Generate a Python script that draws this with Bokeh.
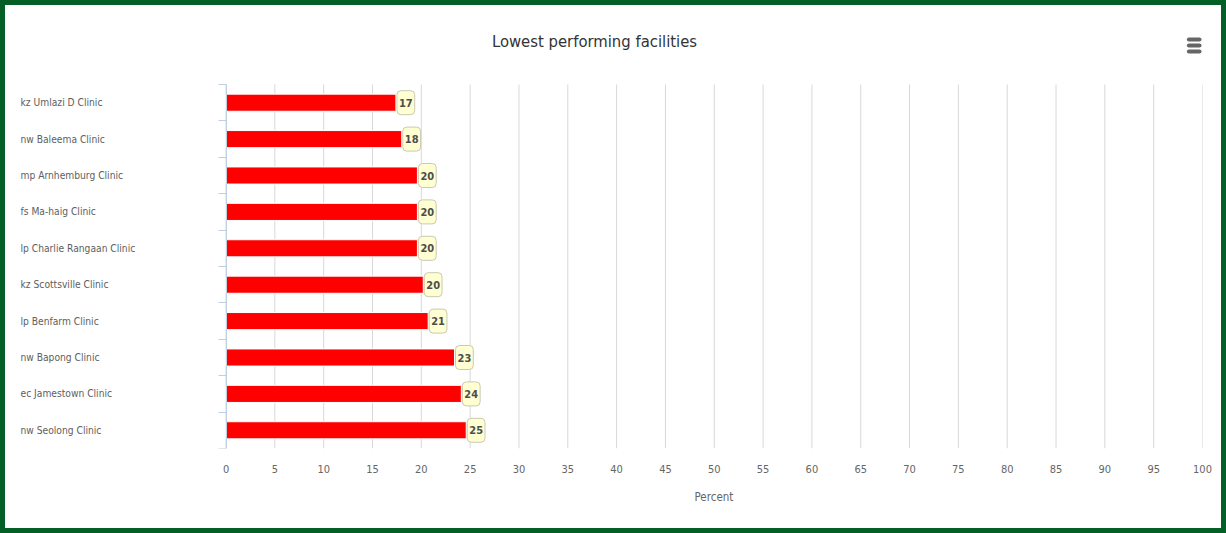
from bokeh.plotting import figure
from bokeh.models import (Range1d, FixedTicker, Label, LabelSet, ColumnDataSource,
                          Title, BoxAnnotation)
from bokeh.embed import file_html
from bokeh.resources import INLINE
from bokeh.core.properties import value

# ---- data ----
facilities = [
    "kz Umlazi D Clinic",
    "nw Baleema Clinic",
    "mp Arnhemburg Clinic",
    "fs Ma-haig Clinic",
    "lp Charlie Rangaan Clinic",
    "kz Scottsville Clinic",
    "lp Benfarm Clinic",
    "nw Bapong Clinic",
    "ec Jamestown Clinic",
    "nw Seolong Clinic",
]
percent = [17.4, 18.0, 19.6, 19.6, 19.6, 20.2, 20.7, 23.4, 24.1, 24.6]
x_ticks = list(range(0, 101, 5))
title_text = "Lowest performing facilities"
x_title = "Percent"

FONT = "'DejaVu Sans Condensed', 'Liberation Sans Narrow', 'Open Sans', sans-serif"
W, H = 1226, 533
N = len(facilities)

centers = [r + 0.5 for r in range(N)]
bounds = list(range(N + 1))
labels = [str(int(round(v))) for v in percent]

src = ColumnDataSource(dict(y=centers, v=percent, name=facilities, lab=labels))
grid_src = ColumnDataSource(dict(x=x_ticks, y0=[0] * len(x_ticks),
                                 y1=[N] * len(x_ticks)))

# the plot area also covers the left label column and the title band,
# so that the texts drawn there are not clipped
p = figure(width=W, height=H, output_backend="svg", toolbar_location=None,
           title_location=None,
           x_range=Range1d(-21.56, 100), y_range=Range1d(N, -2.033),
           min_border_left=10, min_border_right=29, min_border_top=5,
           min_border_bottom=90, background_fill_color="white",
           border_fill_color="white", outline_line_color=None)
p.styles = {"border": "5px solid #035F25"}

# title
p.add_layout(Label(x=579, x_units="screen", y=-1.181, text=title_text,
                   text_align="center", text_baseline="middle", text_font=FONT,
                   text_font_size="16.5px", text_color="#333333"))

# vertical grid lines over the bar area only
p.xgrid.grid_line_color = None
p.ygrid.grid_line_color = None
p.segment(x0="x", x1="x", y0="y0", y1="y1", source=grid_src,
          line_color="#D8D8D8", line_width=1)

# bars
p.hbar(y="y", left=0, right="v", height=0.47, source=src,
       fill_color="#FF0000", line_color="#FFFFFF", line_width=1)

# x axis
xa = p.below[0]
xa.ticker = FixedTicker(ticks=x_ticks)
xa.axis_line_color = None
xa.major_tick_line_color = None
xa.minor_tick_line_color = None
xa.major_label_text_font = FONT
xa.major_label_text_font_size = "11px"
xa.major_label_text_color = "#666666"
xa.major_label_standoff = 10
p.add_layout(Title(text=x_title, align="left", offset=679, text_font=FONT,
                   text_font_size="11.5px", text_font_style="normal",
                   text_color="#666666", standoff=24), "below")

# y axis placed at x = 0: boundary ticks only
ya = p.left[0]
ya.fixed_location = 0
ya.bounds = (0, N)
ya.ticker = FixedTicker(ticks=centers, minor_ticks=bounds)
ya.axis_line_color = "#C0D0E0"
ya.major_tick_line_color = None
ya.major_tick_out = 0
ya.major_tick_in = 0
ya.minor_tick_line_color = "#C0D0E0"
ya.minor_tick_out = 8
ya.minor_tick_in = 0
ya.major_label_overrides = {c: "" for c in centers}
ya.major_label_text_font_size = "0px"

# category labels, left aligned in the left column
p.add_layout(LabelSet(x=5, x_units="screen", y="y", text="name", source=src,
                      text_align="left", text_baseline="middle",
                      text_font=value(FONT), text_font_size="10.2px",
                      text_color="#606060"))

# data labels
for v, c, t in zip(percent, centers, labels):
    p.add_layout(Label(x=v, y=c, text=t, x_offset=1, text_align="left",
                       text_baseline="middle", text_font=FONT,
                       text_font_size="11px", text_font_style="bold",
                       text_color="#4D4D4D", background_fill_color="#FFFFD2",
                       border_line_color="#C9C9B4", border_line_width=1,
                       border_radius=4,
                       padding=dict(left=2, right=2, top=8, bottom=8)))

# menu icon (export button)
for top, bottom in ((-1.291, -1.181), (-1.126, -1.016), (-0.962, -0.852)):
    p.add_layout(BoxAnnotation(left=98.4, right=99.9, top=top, bottom=bottom,
                               fill_color="#666666", fill_alpha=1,
                               line_color=None, border_radius=2))

open("out.html", "w").write(file_html(p, INLINE))
